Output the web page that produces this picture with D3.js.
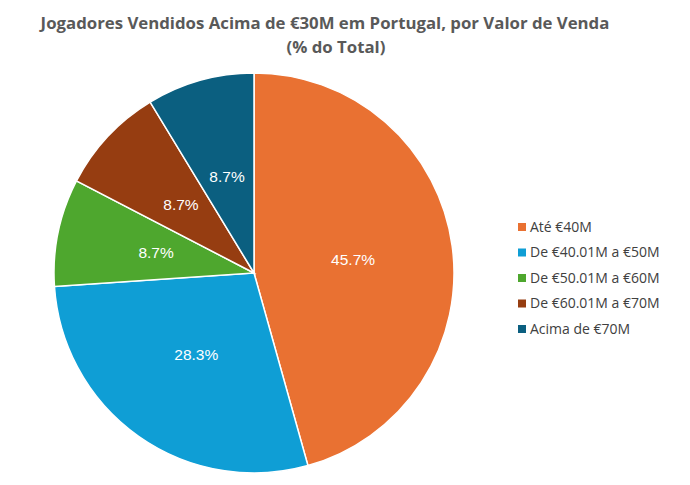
<!DOCTYPE html>
<html lang="pt">
<head>
<meta charset="UTF-8">
<title>Jogadores Vendidos Acima de €30M</title>
<script src="https://d3js.org/d3.v7.min.js"></script>
<style>
  body { margin: 0; background: #fff; }
  svg { font-family: "Open Sans", "Liberation Sans", sans-serif; }
</style>
</head>
<body>
<svg id="chart" width="690" height="485"></svg>
<script>
const categories = ["Até €40M", "De €40.01M a €50M", "De €50.01M a €60M", "De €60.01M a €70M", "Acima de €70M"];
const shares = [45.7, 28.3, 8.7, 8.7, 8.7];
const colors = ["#E97132", "#0F9ED5", "#4EA72E", "#963D11", "#0B5F80"];

const svg = d3.select("#chart");
const cx = 254, cy = 273, radius = 200;

// titulo
const title = svg.append("text")
    .attr("text-anchor", "middle")
    .attr("fill", "#595959")
    .attr("font-size", "16.8px")
    .attr("font-weight", "bold");
title.append("tspan").attr("x", 325).attr("y", 29)
    .text("Jogadores Vendidos Acima de €30M em Portugal, por Valor de Venda");
title.append("tspan").attr("x", 336).attr("y", 53).text("(% do Total)");

const data = categories.map((c, i) => ({ name: c, value: shares[i] }));
const color = d3.scaleOrdinal().domain(categories).range(colors);

const pie = d3.pie().value(d => d.value).sort(null);
const arc = d3.arc().innerRadius(0).outerRadius(radius);
const labelArc = d3.arc().innerRadius(radius * 0.5).outerRadius(radius * 0.5);

const g = svg.append("g").attr("transform", `translate(${cx},${cy})`);
const slices = g.selectAll("g.slice").data(pie(data)).enter().append("g");

slices.append("path")
    .attr("d", arc)
    .attr("fill", d => color(d.data.name))
    .attr("stroke", "#fff")
    .attr("stroke-width", 1.5);

slices.append("text")
    .attr("transform", d => `translate(${labelArc.centroid(d)})`)
    .attr("text-anchor", "middle")
    .attr("dy", "0.35em")
    .attr("fill", "#fff")
    .attr("font-family", "'Liberation Sans', Arial, sans-serif")
    .attr("font-size", "15.5px")
    .text(d => d.data.value.toFixed(1) + "%");

// legenda
const legend = svg.append("g").attr("transform", "translate(518,227)");
const rows = legend.selectAll("g").data(categories).enter().append("g")
    .attr("transform", (d, i) => `translate(0,${i * 25.5})`);
rows.append("rect")
    .attr("x", 0).attr("y", -4).attr("width", 8).attr("height", 8)
    .attr("fill", d => color(d));
rows.append("text")
    .attr("x", 12).attr("dy", "0.35em")
    .attr("fill", "#404040")
    .attr("font-size", "14px")
    .text(d => d);
</script>
</body>
</html>
